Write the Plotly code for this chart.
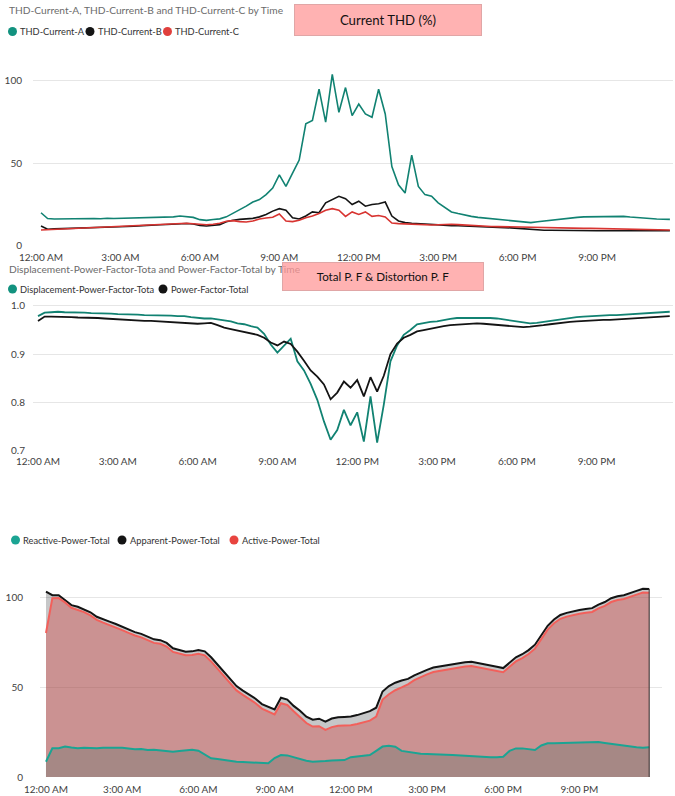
import plotly.graph_objects as go
import pandas as pd

W, H = 675, 796
FONT = "Lato"

# ---------------- data ----------------
TIMES = pd.date_range("2024-01-01 00:00", periods=96, freq="15min")
TICK_HOURS = [0, 3, 6, 9, 12, 15, 18, 21]
TICK_LABELS = ["12:00 AM", "3:00 AM", "6:00 AM", "9:00 AM",
               "12:00 PM", "3:00 PM", "6:00 PM", "9:00 PM"]

THD_A = [20.0, 16.5, 16.2, 16.3, 16.4, 16.2, 16.6, 16.3,
         16.5, 16.4, 16.7, 16.5, 16.6, 16.8, 16.6, 16.9,
         17.0, 17.2, 17.1, 17.4, 17.5, 18.0, 17.8, 17.2,
         15.8, 15.4, 15.9, 16.3, 17.5, 19.5, 22.0, 24.0,
         26.5, 28.0, 31.0, 35.0, 43.0, 36.0, 44.0, 52.0,
         74.0, 76.0, 95.0, 75.0, 104.0, 81.0, 96.0, 79.0,
         86.0, 80.0, 78.0, 95.0, 80.0, 48.0, 37.0, 32.0,
         55.0, 36.0, 31.0, 30.0, 26.0, 23.0, 20.5, 19.5,
         18.5, 17.8, 17.2, 16.8, 16.4, 16.0, 15.6, 15.2,
         14.8, 14.3, 14.0, 14.5, 15.0, 15.5, 16.0, 16.5,
         17.0, 17.2, 17.5, 17.6, 17.7, 17.8, 18.0, 18.0,
         17.8, 17.4, 17.0, 16.6, 16.3, 16.2, 16.1, 16.0]
THD_B = [12.0, 10.0, 10.2, 10.3, 10.5, 10.6, 10.8, 10.9,
         11.0, 11.1, 11.3, 11.4, 11.5, 11.7, 11.9, 12.0,
         12.3, 12.5, 12.7, 12.9, 13.1, 13.3, 13.5, 13.2,
         12.3, 12.0, 12.2, 12.8, 14.5, 15.5, 16.0, 16.3,
         16.6, 17.5, 19.0, 21.0, 22.5, 21.5, 17.0, 16.2,
         18.0, 20.5, 20.0, 26.0, 28.0, 30.0, 28.5, 25.0,
         27.0, 24.0, 25.0, 25.5, 26.5, 18.0, 15.0, 14.0,
         13.6, 13.3, 13.0, 12.7, 12.5, 12.3, 12.2, 12.1,
         12.0, 11.9, 11.8, 11.6, 11.4, 11.2, 11.0, 10.8,
         10.5, 10.0, 9.6, 9.5, 9.4, 9.4, 9.3, 9.3,
         9.3, 9.2, 9.2, 9.2, 9.1, 9.1, 9.1, 9.2,
         9.1, 9.0, 9.1, 9.1, 9.0, 9.1, 9.1, 9.1]
THD_C = [9.5, 9.7, 9.9, 10.1, 10.3, 10.5, 10.6, 10.8,
         11.0, 11.2, 11.3, 11.5, 11.6, 11.8, 12.0, 12.2,
         12.4, 12.6, 12.8, 13.0, 13.2, 13.4, 13.6, 13.3,
         12.8, 12.7, 13.0, 13.6, 14.8, 15.2, 14.6, 14.4,
         15.0, 16.2, 16.8, 17.3, 19.2, 15.0, 14.6, 15.5,
         17.0, 18.0, 19.5, 21.5, 22.5, 21.5, 17.8, 20.5,
         19.0, 20.5, 17.8, 18.3, 17.5, 13.8, 13.4, 13.2,
         13.0, 12.8, 12.6, 12.6, 12.7, 12.9, 13.0, 12.8,
         12.5, 12.2, 12.0, 11.8, 11.7, 11.6, 11.5, 11.3,
         11.1, 11.0, 11.0, 11.1, 11.0, 10.9, 10.8, 10.7,
         10.6, 10.6, 10.5, 10.5, 10.4, 10.3, 10.3, 10.2,
         10.1, 10.1, 10.0, 9.8, 9.7, 9.6, 9.6, 9.5]

DPF_TOTAL = [0.979, 0.986, 0.987, 0.988, 0.987, 0.987, 0.986, 0.986,
             0.985, 0.985, 0.984, 0.984, 0.983, 0.983, 0.982, 0.982,
             0.981, 0.981, 0.980, 0.980, 0.980, 0.979, 0.979, 0.977,
             0.975, 0.974, 0.974, 0.972, 0.970, 0.968, 0.964, 0.962,
             0.958, 0.955, 0.942, 0.920, 0.903, 0.918, 0.932, 0.885,
             0.866, 0.838, 0.805, 0.760, 0.722, 0.742, 0.784, 0.752,
             0.779, 0.718, 0.812, 0.716, 0.795, 0.885, 0.918, 0.940,
             0.950, 0.962, 0.965, 0.967, 0.968, 0.971, 0.973, 0.975,
             0.975, 0.976, 0.976, 0.976, 0.975, 0.974, 0.972, 0.970,
             0.968, 0.966, 0.964, 0.965, 0.967, 0.970, 0.972, 0.974,
             0.976, 0.977, 0.978, 0.979, 0.980, 0.980, 0.981, 0.981,
             0.982, 0.983, 0.984, 0.985, 0.986, 0.987, 0.987, 0.988]
PF_TOTAL = [0.969, 0.978, 0.978, 0.978, 0.977, 0.977, 0.976, 0.976,
            0.975, 0.975, 0.974, 0.973, 0.972, 0.972, 0.971, 0.970,
            0.969, 0.969, 0.968, 0.967, 0.967, 0.966, 0.965, 0.964,
            0.963, 0.964, 0.965, 0.960, 0.955, 0.952, 0.949, 0.947,
            0.944, 0.940, 0.934, 0.924, 0.918, 0.926, 0.921, 0.905,
            0.886, 0.866, 0.853, 0.837, 0.806, 0.820, 0.843, 0.830,
            0.846, 0.812, 0.852, 0.822, 0.855, 0.900, 0.922, 0.934,
            0.940, 0.947, 0.950, 0.953, 0.956, 0.958, 0.960, 0.961,
            0.962, 0.963, 0.964, 0.963, 0.962, 0.961, 0.960, 0.958,
            0.957, 0.956, 0.957, 0.958, 0.960, 0.962, 0.964, 0.966,
            0.967, 0.968, 0.969, 0.969, 0.970, 0.971, 0.971, 0.972,
            0.973, 0.974, 0.975, 0.976, 0.977, 0.978, 0.978, 0.979]

APPARENT = [103.0, 101.0, 101.0, 98.5, 95.5, 94.6, 93.2, 91.5,
            89.0, 87.5, 86.3, 85.0, 83.5, 82.0, 80.5, 79.5,
            78.0, 76.5, 76.0, 74.5, 71.5, 70.5, 69.6, 69.8,
            70.6, 69.8, 66.5, 62.5, 58.5, 55.0, 50.5, 48.0,
            45.8, 43.5, 40.5, 39.0, 37.5, 44.0, 43.0, 39.5,
            36.8, 33.5, 31.8, 32.4, 30.8, 32.5, 33.2, 33.4,
            33.6, 34.4, 35.6, 36.6, 38.5, 47.5, 50.5, 52.4,
            53.6, 54.5, 56.5, 58.2, 59.5, 60.8, 61.4, 62.0,
            62.8, 63.2, 63.8, 64.0, 63.4, 62.6, 62.0, 61.2,
            60.5, 63.5, 66.5, 68.2, 70.5, 73.5, 78.5, 84.0,
            87.5, 90.0, 91.2, 92.2, 92.8, 93.3, 93.8, 95.8,
            97.2, 99.3, 100.4, 101.0, 102.0, 103.4, 104.6, 104.5]
ACTIVE = [80.0, 99.3, 99.4, 97.0, 94.0, 93.0, 91.6, 89.8,
          87.3, 85.8, 84.5, 83.2, 81.6, 80.1, 78.6, 77.6,
          76.0, 74.5, 74.0, 72.5, 69.5, 68.5, 67.6, 67.8,
          68.5, 67.6, 64.2, 60.2, 56.2, 52.6, 48.1, 45.6,
          43.3, 41.0, 38.0, 36.3, 34.8, 41.0, 40.0, 36.5,
          33.5, 30.0, 28.0, 28.2, 26.2, 27.7, 28.5, 28.6,
          28.8, 29.5, 30.5, 31.3, 33.5, 43.0, 46.0, 48.2,
          49.8, 51.5, 53.8, 55.6, 57.0, 58.3, 59.0, 59.6,
          60.4, 60.8, 61.4, 61.6, 61.0, 60.2, 59.6, 58.9,
          58.2, 61.2, 64.2, 66.0, 68.3, 71.3, 76.4, 81.9,
          85.4, 87.9, 89.1, 90.1, 90.7, 91.2, 91.7, 93.7,
          95.1, 97.2, 98.3, 98.9, 99.9, 101.3, 102.5, 102.4]
REACTIVE = [8.5, 16.0, 16.0, 16.9, 16.4, 16.0, 16.2, 16.0,
            16.0, 16.3, 16.1, 16.3, 16.2, 15.8, 15.4, 15.6,
            15.0, 15.2, 14.8, 14.6, 14.0, 14.4, 14.8, 15.1,
            14.6, 12.5, 10.4, 10.0, 9.4, 9.0, 8.5, 8.3,
            8.1, 8.0, 7.8, 7.6, 10.5, 12.2, 12.0, 11.0,
            9.8, 9.0, 8.5, 8.5, 8.9, 9.2, 9.3, 9.4,
            11.0, 11.3, 12.0, 12.2, 14.5, 16.9, 17.4, 16.8,
            14.5, 14.0, 13.2, 12.9, 12.8, 12.8, 12.6, 12.4,
            12.2, 12.0, 11.6, 11.3, 11.2, 11.1, 11.0, 11.0,
            11.3, 14.5, 15.9, 15.9, 15.5, 15.0, 17.5, 18.7,
            18.8, 18.9, 18.9, 19.0, 19.0, 19.1, 19.2, 19.4,
            18.9, 18.4, 17.8, 17.2, 16.9, 16.5, 16.3, 16.5]

# ---------------- styling ----------------
TEAL = "#118272"
TEAL_MK = "#12927f"
BLACK = "#141414"
RED = "#d83431"
RED_MK = "#e0403d"
TEAL3 = "#1ba493"
RED3 = "#f2605b"
GRID = "#e6e6e6"
TICK_COL = "#3f3f3f"
TITLE_COL = "#6b6b6b"

BASE = pd.Timestamp("2024-01-01")


def t(h):
    return str(BASE + pd.Timedelta(hours=h))


def px(x):
    return x / W


def py(y):
    return 1 - y / H


TICK_VALS = [t(h) for h in TICK_HOURS]

fig = go.Figure()

# chart 1
for name, vals, col in [("THD-Current-A", THD_A, TEAL),
                        ("THD-Current-B", THD_B, BLACK),
                        ("THD-Current-C", THD_C, RED)]:
    fig.add_trace(go.Scatter(x=TIMES, y=vals, name=name, mode="lines",
                             line=dict(color=col, width=1.6),
                             xaxis="x", yaxis="y", showlegend=False))

# chart 2
for name, vals, col in [("Displacement-Power-Factor-Tota", DPF_TOTAL, TEAL),
                        ("Power-Factor-Total", PF_TOTAL, BLACK)]:
    fig.add_trace(go.Scatter(x=TIMES, y=vals, name=name, mode="lines",
                             line=dict(color=col, width=1.8),
                             xaxis="x2", yaxis="y2", showlegend=False))

# chart 3 (areas)
fig.add_trace(go.Scatter(x=TIMES, y=APPARENT, name="Apparent-Power-Total",
                         mode="lines", fill="tozeroy",
                         fillcolor="rgba(40,45,48,0.265)",
                         line=dict(color=BLACK, width=2),
                         xaxis="x3", yaxis="y3", showlegend=False))
fig.add_trace(go.Scatter(x=TIMES, y=ACTIVE, name="Active-Power-Total",
                         mode="lines", fill="tozeroy",
                         fillcolor="rgba(209,81,80,0.45)",
                         line=dict(color=RED3, width=2),
                         xaxis="x3", yaxis="y3", showlegend=False))
fig.add_trace(go.Scatter(x=TIMES, y=REACTIVE, name="Reactive-Power-Total",
                         mode="lines", fill="tozeroy",
                         fillcolor="rgba(97,117,109,0.35)",
                         line=dict(color=TEAL3, width=2),
                         xaxis="x3", yaxis="y3", showlegend=False))
# closing edge of the area at the last sample
fig.add_trace(go.Scatter(x=[TIMES[-1], TIMES[-1]], y=[0, APPARENT[-1]],
                         mode="lines", line=dict(color="rgba(70,60,60,0.75)", width=1.5),
                         xaxis="x3", yaxis="y3", showlegend=False,
                         hoverinfo="skip"))

tickfont = dict(family=FONT, size=10, color=TICK_COL)


def xax(dom_px, hr_range, anchor, standoff):
    return dict(domain=[px(dom_px[0]), px(dom_px[1])],
                range=[t(hr_range[0]), t(hr_range[1])], type="date",
                tickmode="array", tickvals=TICK_VALS, ticktext=TICK_LABELS,
                showgrid=False, zeroline=False, showline=False, ticks="",
                tickfont=tickfont, anchor=anchor, fixedrange=True,
                automargin=False, ticklabelstandoff=standoff)


def yax(dom_px, rng, tickvals, fmt, anchor, standoff):
    return dict(domain=[py(dom_px[1]), py(dom_px[0])], range=rng,
                tickmode="array", tickvals=tickvals, tickformat=fmt,
                showgrid=True, gridcolor=GRID, gridwidth=1, ticks="",
                zeroline=False, showline=False, tickfont=tickfont,
                anchor=anchor, ticklabelstandoff=standoff, automargin=False,
                fixedrange=True)


fig.update_layout(
    template="none",
    width=W, height=H, margin=dict(l=0, r=0, t=0, b=0, pad=0, autoexpand=False),
    paper_bgcolor="white", plot_bgcolor="white", showlegend=False,
    font=dict(family=FONT, size=10, color=TICK_COL),
    xaxis=xax((33, 673), (-0.302, 23.867), "y", 4),
    yaxis=yax((64.5, 245.7), [0, 110], [0, 50, 100], "d", "x", 10),
    xaxis2=xax((33, 673), (-0.188, 23.872), "y2", 4),
    yaxis2=yax((300.2, 450.3), [0.7, 1.012], [0.7, 0.8, 0.9, 1.0], ".1f", "x2", 7),
    xaxis3=xax((40, 662), (-0.236, 24.252), "y3", 5),
    yaxis3=yax((582.6, 777), [0, 108], [0, 50, 100], "d", "x3", 16),
)

annotations = []
shapes = []


def text_at(x, y, s, size, color, anchor="left"):
    annotations.append(dict(x=px(x), y=py(y), xref="paper", yref="paper",
                            text=s, showarrow=False, xanchor=anchor,
                            yanchor="middle",
                            font=dict(family=FONT, size=size, color=color)))


def legend_row(y, items):
    for cx, label, col in items:
        r = 4.5
        shapes.append(dict(type="circle", xref="paper", yref="paper",
                           x0=px(cx - r), x1=px(cx + r),
                           y0=py(y + r), y1=py(y - r),
                           fillcolor=col, line=dict(width=0)))
        text_at(cx + 5.5, y, label, 9.3, "#333333")


def title_box(cx, cy, w, h, s, size):
    annotations.append(dict(x=px(cx), y=py(cy), xref="paper", yref="paper",
                            text=s, showarrow=False, xanchor="center",
                            yanchor="middle", width=w, height=h,
                            bgcolor="rgba(255,152,152,0.75)",
                            bordercolor="#e0a6a6", borderwidth=1, borderpad=0,
                            font=dict(family=FONT, size=size, color="#111111")))


# chart 1 header
text_at(7, 10, "THD-Current-A, THD-Current-B and THD-Current-C by Time", 10.2, TITLE_COL)
legend_row(31.5, [(12.5, "THD-Current-A", TEAL_MK),
                  (90, "THD-Current-B", BLACK),
                  (167.5, "THD-Current-C", RED_MK)])
title_box(388, 20, 186, 30, "Current THD (%)", 13.2)

# chart 2 header
text_at(7, 268.5, "Displacement-Power-Factor-Tota and Power-Factor-Total by Time", 10.2, TITLE_COL)
legend_row(289, [(12.5, "Displacement-Power-Factor-Tota", TEAL_MK),
                 (163, "Power-Factor-Total", BLACK)])
title_box(383, 276.5, 200, 27, "Total P. F &amp; Distortion P. F", 11.6)

# chart 3 header
legend_row(540, [(15.5, "Reactive-Power-Total", TEAL3),
                 (122, "Apparent-Power-Total", BLACK),
                 (234, "Active-Power-Total", "#e8443f")])

fig.update_layout(annotations=annotations, shapes=shapes)

fig.write_html("out.html",
               config={"displayModeBar": False},
               post_script="document.body.style.margin='0';"
                           "document.body.style.overflow='hidden';")
